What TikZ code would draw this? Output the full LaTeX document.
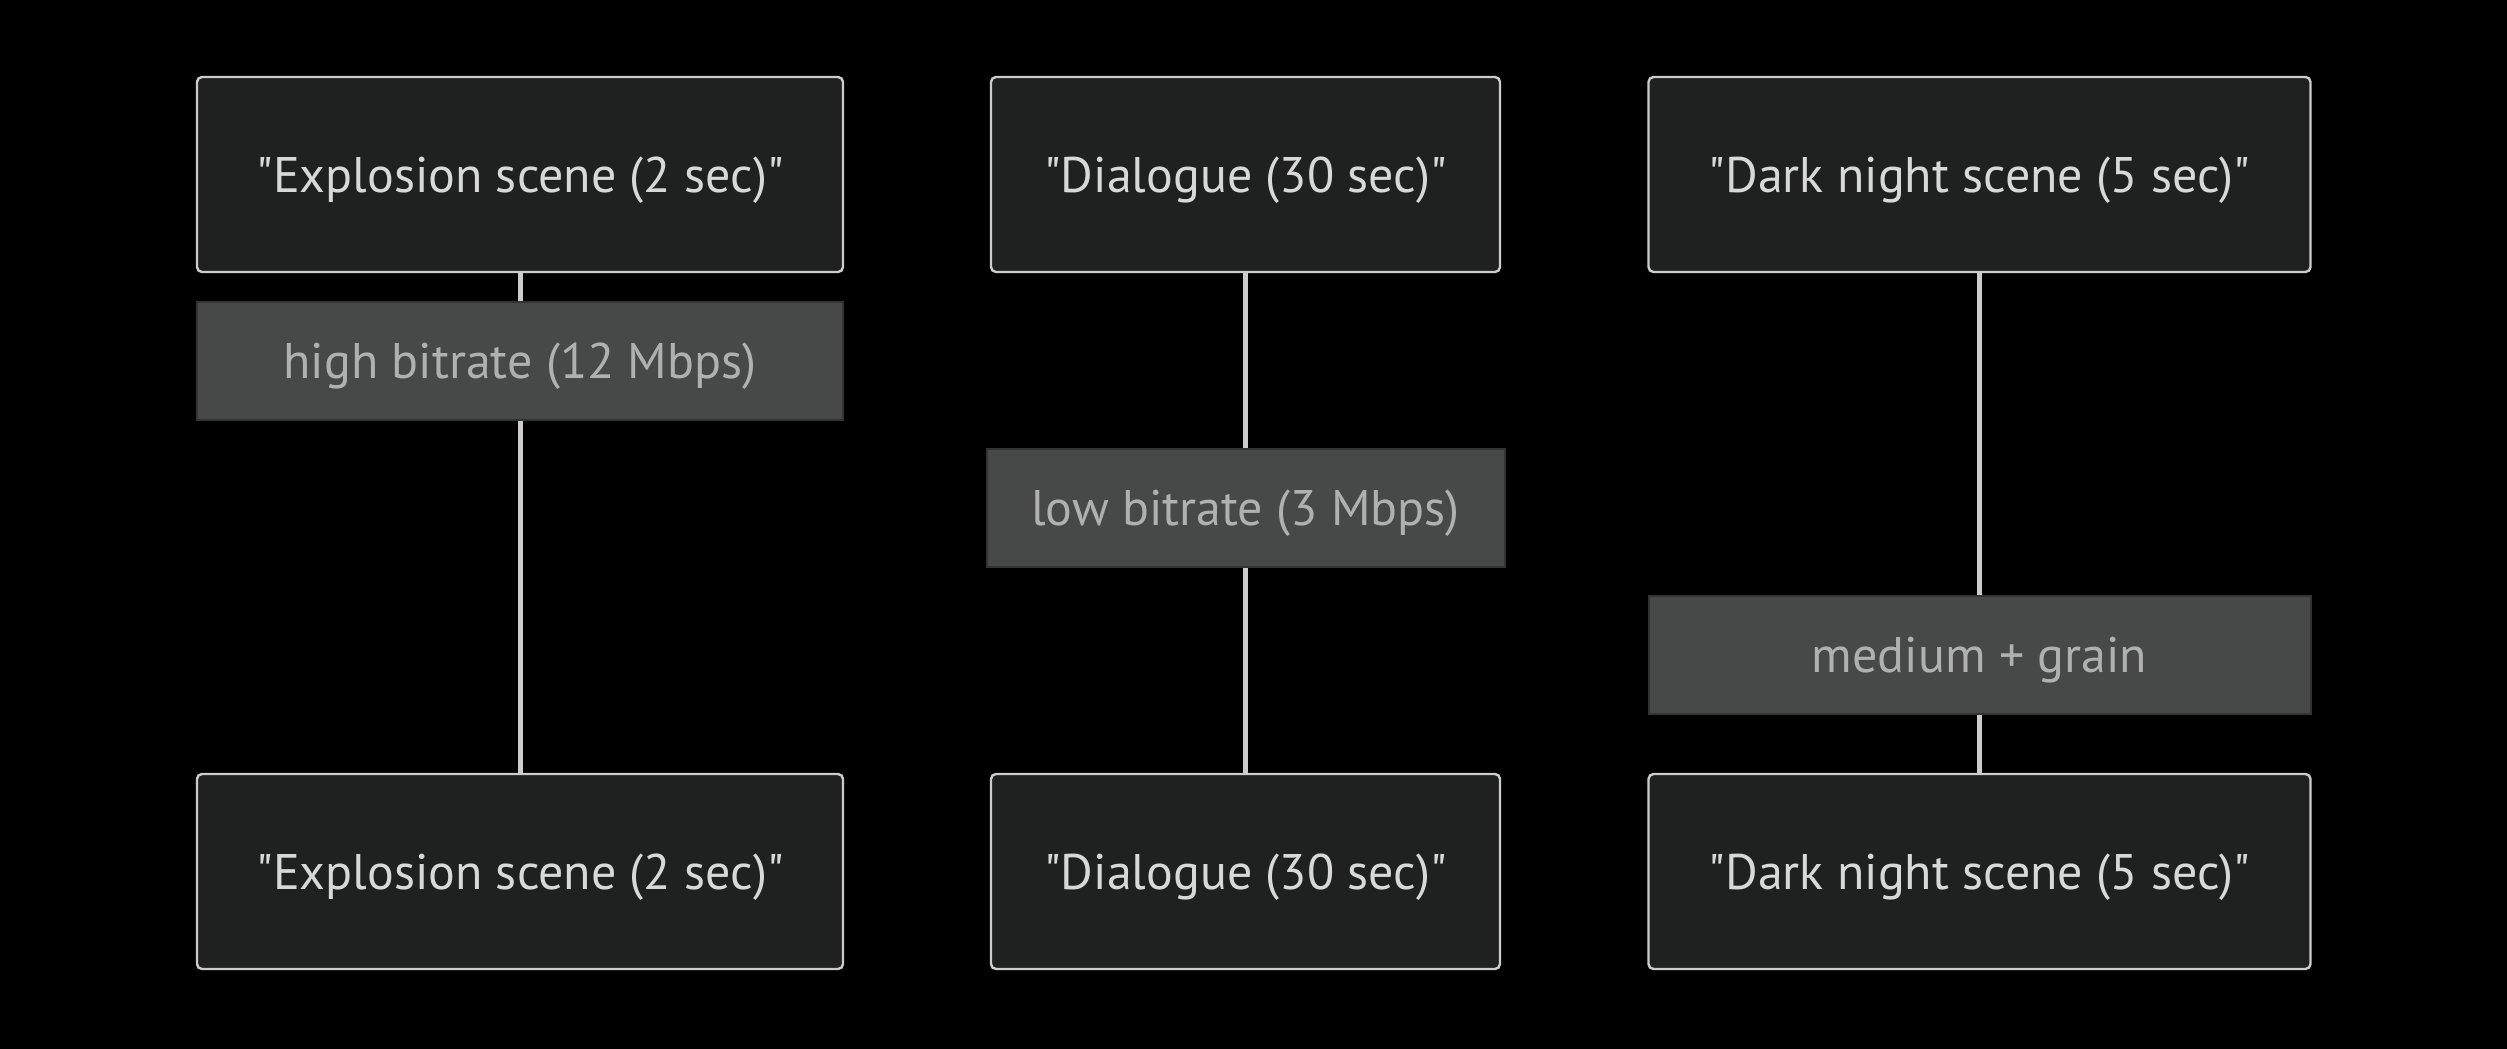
\documentclass[tikz,border=0pt]{standalone}
\usepackage{fontspec}
\setmainfont{PT Sans}[Ligatures=TeXOff]
\definecolor{bg}{HTML}{000000}
\definecolor{boxfill}{HTML}{1F2020}
\definecolor{boxline}{HTML}{CCCCCC}
\definecolor{boxtext}{HTML}{D8D8D8}
\definecolor{lblfill}{HTML}{474949}
\definecolor{lblline}{HTML}{333333}
\definecolor{lbltext}{HTML}{B0B0B0}
\definecolor{edge}{HTML}{CCCCCC}
\begin{document}
\begin{tikzpicture}[x=0.5pt,y=-0.5pt,
  scene/.style={draw=boxline,fill=boxfill,line width=1.2pt,rounded corners=2.5pt,
    text=boxtext,font=\fontsize{25}{30}\selectfont,inner sep=0pt,text depth=0pt,minimum height=97.5pt},
  lbl/.style={draw=lblline,fill=lblfill,line width=1pt,text=lbltext,
    font=\fontsize{25}{30}\selectfont,inner sep=0pt,text depth=0pt,minimum height=59pt},
  conn/.style={draw=edge,line width=2.5pt}]
\fill[bg] (0,0) rectangle (2507,1049);
\useasboundingbox (0,0) rectangle (2507,1049);
% top row
\node[scene,minimum width=323pt] (t1) at (520,174.5) {"Explosion scene (2 sec)"};
\node[scene,minimum width=254.5pt] (t2) at (1245.5,174.5) {"Dialogue (30 sec)"};
\node[scene,minimum width=331pt] (t3) at (1979.5,174.5) {"Dark night scene (5 sec)"};
% bottom row
\node[scene,minimum width=323pt] (b1) at (520,871.5) {"Explosion scene (2 sec)"};
\node[scene,minimum width=254.5pt] (b2) at (1245.5,871.5) {"Dialogue (30 sec)"};
\node[scene,minimum width=331pt] (b3) at (1979.5,871.5) {"Dark night scene (5 sec)"};
% labels
\node[lbl,minimum width=323pt] (l1) at (520,361) {high bitrate (12 Mbps)};
\node[lbl,minimum width=259pt] (l2) at (1245.5,507.5) {low bitrate (3 Mbps)};
\node[lbl,minimum width=331pt] (l3) at (1979.5,654.5) {medium + grain};
% connectors
\draw[conn] (t1.south) -- (l1.north);
\draw[conn] (l1.south) -- (b1.north);
\draw[conn] (t2.south) -- (l2.north);
\draw[conn] (l2.south) -- (b2.north);
\draw[conn] (t3.south) -- (l3.north);
\draw[conn] (l3.south) -- (b3.north);
\end{tikzpicture}
\end{document}
